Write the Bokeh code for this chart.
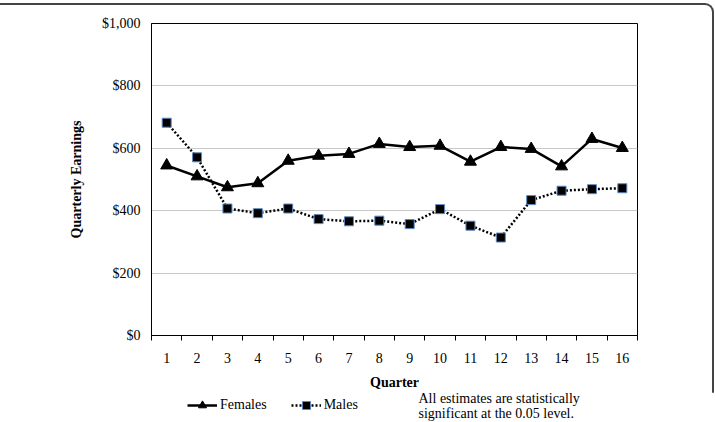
from bokeh.plotting import figure
from bokeh.layouts import column
from bokeh.models import (FixedTicker, NumeralTickFormatter, Range1d, Label, Legend, LegendItem,
                          InlineStyleSheet)
from bokeh.embed import file_html
from bokeh.resources import INLINE

quarters = list(range(1, 17))
quarter_labels = [str(q) for q in quarters]
females = [545, 510, 475, 488, 560, 576, 582, 614, 604, 608, 557, 604, 598, 542, 630, 601]
males = [682, 571, 407, 392, 407, 373, 366, 368, 357, 405, 352, 314, 434, 464, 469, 472]
y_ticks = [0, 200, 400, 600, 800, 1000]
note_lines = ["All estimates are statistically", "significant at the 0.05 level."]

FONT = "Liberation Serif"

fig = figure(width=715, height=392, output_backend="svg", toolbar_location=None,
             x_range=Range1d(0.5, 16.5), y_range=Range1d(0, 1000),
             min_border_left=151, min_border_right=78, min_border_top=23, min_border_bottom=57)
fig.background_fill_color = "white"
fig.border_fill_color = "white"
fig.outline_line_color = "black"
fig.outline_line_width = 1

# x axis
fig.xaxis.ticker = FixedTicker(ticks=quarters, minor_ticks=[q - 0.5 for q in quarters] + [16.5])
fig.xaxis.major_label_overrides = {q: s for q, s in zip(quarters, quarter_labels)}
fig.xaxis.major_tick_out = 0
fig.xaxis.major_tick_in = 0
fig.xaxis.minor_tick_out = 5
fig.xaxis.minor_tick_in = 0
fig.xaxis.minor_tick_line_color = "black"
fig.xaxis.axis_line_color = "black"
fig.xaxis.major_label_standoff = 12
fig.xaxis.major_label_text_font = FONT
fig.xaxis.major_label_text_font_size = "14px"
fig.xaxis.major_label_text_color = "black"
fig.xaxis.axis_label = "Quarter"
fig.xaxis.axis_label_text_font = FONT
fig.xaxis.axis_label_text_font_style = "bold"
fig.xaxis.axis_label_text_font_size = "14px"
fig.xaxis.axis_label_text_color = "black"
fig.xaxis.axis_label_standoff = 9

# y axis
fig.yaxis.ticker = FixedTicker(ticks=y_ticks)
fig.yaxis.formatter = NumeralTickFormatter(format="$0,0")
fig.yaxis.major_tick_out = 0
fig.yaxis.major_tick_in = 0
fig.yaxis.minor_tick_out = 0
fig.yaxis.minor_tick_in = 0
fig.yaxis.axis_line_color = "black"
fig.yaxis.major_label_standoff = 11
fig.yaxis.major_label_text_font = FONT
fig.yaxis.major_label_text_font_size = "14px"
fig.yaxis.major_label_text_color = "black"
fig.yaxis.axis_label = "Quarterly Earnings"
fig.yaxis.axis_label_text_font = FONT
fig.yaxis.axis_label_text_font_style = "bold"
fig.yaxis.axis_label_text_font_size = "14px"
fig.yaxis.axis_label_text_color = "black"
fig.yaxis.axis_label_standoff = 15

fig.xgrid.grid_line_color = None
fig.ygrid.ticker = FixedTicker(ticks=y_ticks[1:-1])
fig.ygrid.grid_line_color = "#c8c8c8"
fig.ygrid.grid_line_width = 1

FEM_LINE = dict(line_color="black", line_width=2.5)
FEM_MARK = dict(marker="triangle", size=12, fill_color="black", line_color="black")
MAL_LINE = dict(line_color="black", line_width=2.5, line_dash="2 2")
MAL_MARK = dict(marker="square", size=9, fill_color="black", line_color="#5a8ac6", line_width=1)

fig.line(quarters, females, **FEM_LINE)
fig.scatter(quarters, females, **FEM_MARK)
fig.line(quarters, males, **MAL_LINE)
fig.scatter(quarters, males, **MAL_MARK)

fig.stylesheets = [InlineStyleSheet(css=""":host::after {content:''; position:absolute; left:-2px; top:3px;
 width:716px; height:460px; border-top:2px solid #444; border-right:2px solid #444;
 border-top-right-radius:9px; pointer-events:none; box-sizing:border-box;}""")]

# footer strip holding the legend and the note (its frame aligns with the chart's frame)
foot = figure(width=715, height=30, output_backend="svg", toolbar_location=None,
              x_range=Range1d(100, 101), y_range=Range1d(100, 101),
              x_axis_location=None, y_axis_location=None, min_border=0)
foot.outline_line_color = None
foot.grid.visible = False
foot.background_fill_color = "white"
foot.border_fill_color = "white"

fl = foot.line(quarters, females, **FEM_LINE)
fm = foot.scatter(quarters, females, **FEM_MARK)
ml = foot.line(quarters, males, **MAL_LINE)
mm = foot.scatter(quarters, males, **MAL_MARK)

legend = Legend(items=[LegendItem(label="Females", renderers=[fl, fm]),
                       LegendItem(label="Males", renderers=[ml, mm])],
                location=(36, 7), orientation="horizontal",
                padding=0, margin=0, spacing=24, glyph_width=30, glyph_height=20,
                label_standoff=3,
                border_line_color=None, background_fill_alpha=0,
                label_text_font=FONT, label_text_font_size="14px", label_text_color="black")
foot.add_layout(legend, "center")

for txt, yy in zip(note_lines, [24, 9]):
    foot.add_layout(Label(x=267, y=yy, x_units="screen", y_units="screen", text=txt,
                          text_font=FONT, text_font_size="14px", text_color="black",
                          text_baseline="middle"))

p = column(fig, foot, spacing=0)

open("out.html", "w").write(file_html(p, INLINE))
